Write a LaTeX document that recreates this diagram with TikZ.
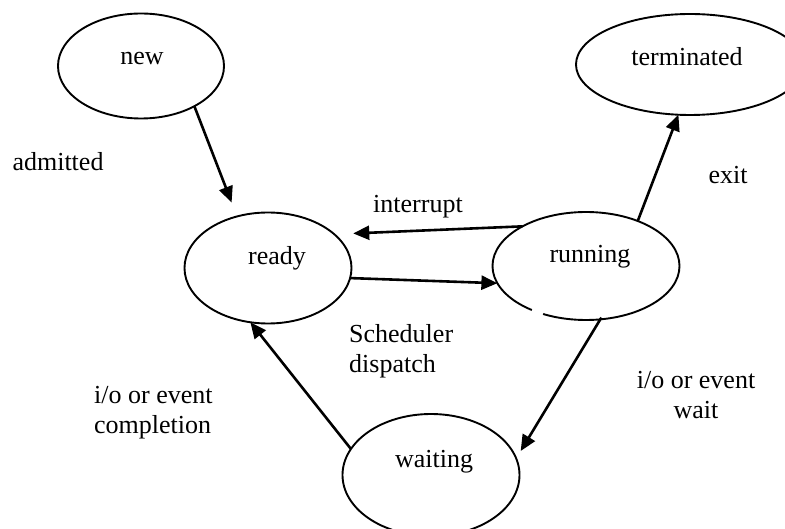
\documentclass[tikz,border=0pt]{standalone}
\usepackage{fontspec}
\setmainfont{Liberation Serif}
\usetikzlibrary{shapes.geometric,arrows.meta}
\tikzset{
  statebox/.style={draw, ellipse, line width=1.9pt, inner sep=0pt, outer sep=0pt},
  lbl/.style={inner sep=0pt, font=\fontsize{26}{30}\selectfont},
  conn/.style={line width=2.6pt, -{Triangle[length=16pt,width=14pt]}}
}
\begin{document}
\begin{tikzpicture}[x=1pt,y=-1pt]
\useasboundingbox (0,0) rectangle (785,529);
% states
\node[statebox, minimum width=166pt, minimum height=105pt] (new) at (141,66) {};
\node[statebox, minimum width=228pt, minimum height=101pt] (term) at (690,64.5) {};
\node[statebox, minimum width=167pt, minimum height=111pt] (ready) at (268,268) {};
\node[statebox, minimum width=187pt, minimum height=108pt] (run) at (586,266) {};
\node[statebox, minimum width=177pt, minimum height=122pt] (wait) at (431,475) {};
\draw[white, line width=4pt] (532,310) -- (543,314);
% state texts
\node[lbl] (newt) at (142,59) {new};
\node[lbl] (termt) at (687,57) {terminated};
\node[lbl] (readyt) at (277,258) {ready};
\node[lbl] (runt) at (590,257) {running};
\node[lbl] (waitt) at (434,462) {waiting};
% connectors
\draw[conn, shorten >=15pt] (new.-37) -- (ready.121);
\draw[conn, shorten >=19pt] (run.148.5) -- (ready.27);
\draw[conn] (ready.-7.5) -- (run.-169);
\draw[conn] (run.41.8) -- (term.257);
\draw[conn, shorten >=8.7pt, shorten <=-2pt] (run.-75) -- (wait.11.9);
\draw[conn] (wait.162.6) -- (ready.-108);
% connector labels
\node[lbl] (admitted) at (58,162) {admitted};
\node[lbl] (exit) at (728,175) {exit};
\node[lbl] (interrupt) at (418,207) {interrupt};
\node[lbl, anchor=west, align=left] (sched) at (349,351) {Scheduler\\dispatch};
\node[lbl, anchor=west, align=left] (compl) at (94,413) {i/o or event\\completion};
\node[lbl, align=center] (waitlbl) at (696,395) {i/o or event\\wait};
\end{tikzpicture}
\end{document}
